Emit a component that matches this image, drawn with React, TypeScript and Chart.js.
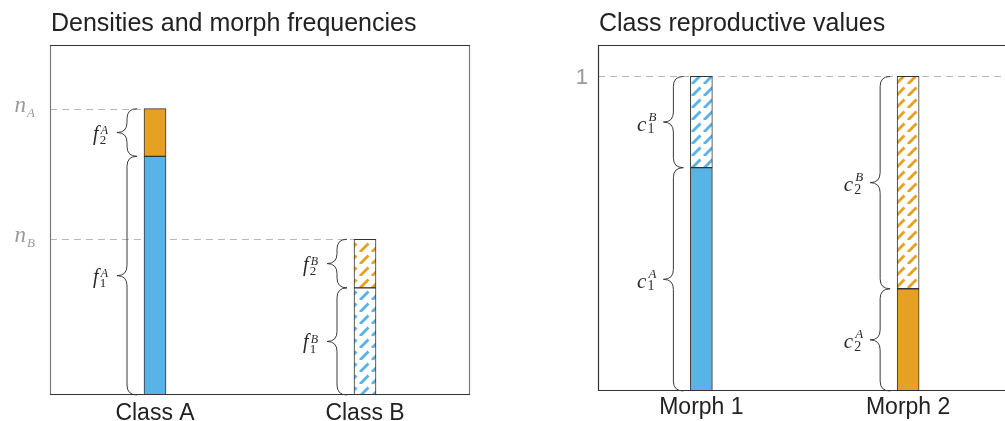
import React, { useEffect, useRef } from 'react';
import { Chart, registerables } from 'chart.js';

Chart.register(...registerables);

// Left panel: class densities split into morph frequencies
const classCategories = ['Class A', 'Class B'];
const morph1Frequency = [0.682, 0.306]; // f_1^A, f_1^B
const morph2Frequency = [0.136, 0.139]; // f_2^A, f_2^B
const classDensity = [0.818, 0.445]; // n_A, n_B
const classDensityNames = ['A', 'B'];

// Right panel: class reproductive values of each morph
const morphCategories = ['Morph 1', 'Morph 2'];
const classAReproValue = [0.71, 0.325]; // c_1^A, c_2^A
const classBReproValue = [0.29, 0.675]; // c_1^B, c_2^B
const reproTicks = [1];

const BLUE = '#58B3E6';
const ORANGE = '#E6A024';
const SANS = '"Liberation Sans", Arial, sans-serif';
const SERIF = '"Liberation Serif", "Times New Roman", serif';

function makeHatch(color: string): CanvasPattern {
  const s = 12;
  const c = document.createElement('canvas');
  c.width = s;
  c.height = s;
  const g = c.getContext('2d')!;
  g.fillStyle = '#ffffff';
  g.fillRect(0, 0, s, s);
  g.strokeStyle = color;
  g.lineWidth = 2.9;
  g.setLineDash([12, 4.97]);
  for (const off of [-s, 0, s]) {
    g.beginPath();
    g.moveTo(off, s);
    g.lineTo(off + s, 0);
    g.stroke();
  }
  return g.createPattern(c, 'repeat')!;
}

type MathLabel = { letter: string; sub: string; sup?: string; subItalic?: boolean };

// font sizes and baseline offsets (relative to the label's middle) of a math label
type MathStyle = {
  big: number;
  small: number;
  supSize: number;
  letterDy: number;
  subDy: number;
  supDy: number;
};

function drawMath(
  ctx: CanvasRenderingContext2D,
  m: MathLabel,
  rightX: number,
  midY: number,
  color: string,
  st: MathStyle,
) {
  ctx.save();
  ctx.fillStyle = color;
  ctx.textBaseline = 'alphabetic';
  ctx.textAlign = 'left';
  const letterFont = `italic ${st.big}px ${SERIF}`;
  const subFont = `${m.subItalic ? 'italic ' : ''}${st.small}px ${SERIF}`;
  const supFont = `italic ${st.supSize}px ${SERIF}`;
  ctx.font = letterFont;
  const lw = ctx.measureText(m.letter).width;
  ctx.font = subFont;
  const sw = ctx.measureText(m.sub).width;
  ctx.font = supFont;
  const pw = m.sup ? ctx.measureText(m.sup).width : 0;
  const total = lw + 1 + Math.max(sw, pw + 1);
  const x0 = rightX - total;
  ctx.font = letterFont;
  ctx.fillText(m.letter, x0, midY + st.letterDy);
  ctx.font = subFont;
  ctx.fillText(m.sub, x0 + lw + 1, midY + st.subDy);
  if (m.sup) {
    ctx.font = supFont;
    ctx.fillText(m.sup, x0 + lw + 2, midY + st.supDy);
  }
  ctx.restore();
}

function drawBrace(ctx: CanvasRenderingContext2D, xe: number, y0: number, y1: number) {
  const xs = xe - 10;
  const xp = xe - 20;
  const ym = (y0 + y1) / 2;
  const r = Math.min(10, (y1 - y0) / 4);
  ctx.beginPath();
  ctx.moveTo(xe, y0);
  ctx.quadraticCurveTo(xs, y0, xs, y0 + r);
  ctx.lineTo(xs, ym - r);
  ctx.quadraticCurveTo(xs, ym, xp, ym);
  ctx.quadraticCurveTo(xs, ym, xs, ym + r);
  ctx.lineTo(xs, y1 - r);
  ctx.quadraticCurveTo(xs, y1, xe, y1);
  ctx.stroke();
}

type RefLine = { value: number; until: number | null; label: MathLabel | string };

type PanelSpec = {
  title: string;
  refLines: RefLine[];
  braces: MathLabel[][]; // [dataset][category]
  braceStyle: MathStyle;
  labelGap: number;
  sideColor: string;
};

const tickMathStyle: MathStyle = { big: 23, small: 13, supSize: 13, letterDy: 3, subDy: 8, supDy: 0 };

function panelPlugin(spec: PanelSpec) {
  const barLeft = (chart: any, di: number, idx: number) => {
    const el = chart.getDatasetMeta(di).data[idx] as any;
    const p = el.getProps(['x', 'width'], true);
    return p.x - p.width / 2;
  };
  return {
    id: 'panelDecor',
    beforeDatasetsDraw(chart: any) {
      const { ctx, chartArea } = chart;
      const y = chart.scales.y;
      ctx.save();
      ctx.strokeStyle = '#b8b8b8';
      ctx.lineWidth = 1.2;
      ctx.setLineDash([7, 5]);
      for (const r of spec.refLines) {
        const py = Math.round(y.getPixelForValue(r.value)) + 0.5;
        const end = r.until === null ? chartArea.right : barLeft(chart, 0, r.until);
        ctx.beginPath();
        ctx.moveTo(chartArea.left, py);
        ctx.lineTo(end, py);
        ctx.stroke();
      }
      ctx.restore();
    },
    afterDraw(chart: any) {
      const { ctx, chartArea } = chart;
      const y = chart.scales.y;
      ctx.save();
      // title
      ctx.fillStyle = '#222222';
      ctx.font = `25px ${SANS}`;
      ctx.textAlign = 'left';
      ctx.textBaseline = 'alphabetic';
      ctx.fillText(spec.title, chartArea.left + 1, 31);
      // frame
      const l = Math.round(chartArea.left) + 0.5;
      const r = Math.round(chartArea.right) - 0.5;
      const t = Math.round(chartArea.top) + 0.5;
      const b = Math.round(chartArea.bottom) - 0.5;
      ctx.lineWidth = 1.2;
      ctx.strokeStyle = spec.sideColor;
      ctx.beginPath();
      ctx.moveTo(l, t);
      ctx.lineTo(l, b);
      ctx.moveTo(r, t);
      ctx.lineTo(r, b);
      ctx.stroke();
      ctx.strokeStyle = '#333333';
      ctx.beginPath();
      ctx.moveTo(l - 0.5, t);
      ctx.lineTo(r + 0.5, t);
      ctx.moveTo(l - 0.5, b);
      ctx.lineTo(r + 0.5, b);
      ctx.stroke();
      // y reference labels
      for (const rl of spec.refLines) {
        const py = y.getPixelForValue(rl.value);
        if (typeof rl.label === 'string') {
          ctx.fillStyle = '#9a9a9a';
          ctx.font = `22px ${SANS}`;
          ctx.textAlign = 'right';
          ctx.textBaseline = 'middle';
          ctx.fillText(rl.label, chartArea.left - 10, py + 1);
        } else {
          drawMath(ctx, rl.label, chartArea.left - 15, py, '#9a9a9a', tickMathStyle);
        }
      }
      // braces with labels
      ctx.strokeStyle = '#3a3a3a';
      ctx.lineWidth = 1;
      spec.braces.forEach((row, di) => {
        const meta = chart.getDatasetMeta(di);
        row.forEach((lab, idx) => {
          const el = meta.data[idx] as any;
          const p = el.getProps(['x', 'y', 'base', 'width'], true);
          const top = Math.min(p.y, p.base);
          const bot = Math.max(p.y, p.base);
          const xe = p.x - p.width / 2 - 7;
          drawBrace(ctx, xe, top, bot);
          drawMath(ctx, lab, xe - 20 - spec.labelGap, (top + bot) / 2, '#2a2a2a', spec.braceStyle);
        });
      });
      ctx.restore();
    },
  };
}

function barStyle() {
  return { borderColor: '#333333', borderWidth: 1, borderSkipped: false as const, barThickness: 22 };
}

function xAxis(padding: number) {
  return {
    stacked: true,
    grid: { display: false, drawTicks: false },
    border: { display: false },
    ticks: { color: '#222222', font: { family: SANS, size: 23, lineHeight: 1 }, padding },
  };
}

export default function App() {
  const leftRef = useRef<HTMLCanvasElement>(null);
  const rightRef = useRef<HTMLCanvasElement>(null);

  useEffect(() => {
    const blueHatch = makeHatch(BLUE);
    const orangeHatch = makeHatch(ORANGE);

    const left = new Chart(leftRef.current!, {
      type: 'bar',
      data: {
        labels: classCategories,
        datasets: [
          { label: 'Morph 1', data: morph1Frequency, backgroundColor: [BLUE, blueHatch] as any, ...barStyle() },
          { label: 'Morph 2', data: morph2Frequency, backgroundColor: [ORANGE, orangeHatch] as any, ...barStyle() },
        ],
      },
      options: {
        responsive: false,
        animation: false,
        layout: { padding: { left: 50, right: 90, top: 45, bottom: 8 } },
        plugins: { legend: { display: false }, tooltip: { enabled: false } },
        scales: {
          x: xAxis(7) as any,
          y: { stacked: true, display: false, min: 0, max: 1 },
        },
      },
      plugins: [
        panelPlugin({
          title: 'Densities and morph frequencies',
          sideColor: '#7a7a7a',
          labelGap: 9,
          braceStyle: { big: 20, small: 13, supSize: 12, letterDy: 7, subDy: 11.5, supDy: 1.5 },
          refLines: classDensity.map((v, i) => ({
            value: v,
            until: i,
            label: { letter: 'n', sub: classDensityNames[i], subItalic: true },
          })),
          braces: [1, 2].map((m) =>
            classDensityNames.map((c) => ({ letter: 'f', sub: String(m), sup: c })),
          ),
        }) as any,
      ],
    });

    const right = new Chart(rightRef.current!, {
      type: 'bar',
      data: {
        labels: morphCategories,
        datasets: [
          { label: 'Class A', data: classAReproValue, backgroundColor: [BLUE, ORANGE], ...barStyle() },
          { label: 'Class B', data: classBReproValue, backgroundColor: [blueHatch, orangeHatch] as any, ...barStyle() },
        ],
      },
      options: {
        responsive: false,
        animation: false,
        layout: { padding: { left: 38, right: 8.5, top: 45, bottom: 16 } },
        plugins: { legend: { display: false }, tooltip: { enabled: false } },
        scales: {
          x: xAxis(5) as any,
          y: { stacked: true, display: false, min: 0, max: 1.1 },
        },
      },
      plugins: [
        panelPlugin({
          title: 'Class reproductive values',
          sideColor: '#333333',
          labelGap: 7,
          braceStyle: { big: 21, small: 14, supSize: 13, letterDy: 8.5, subDy: 11, supDy: -1.5 },
          refLines: reproTicks.map((v) => ({ value: v, until: null, label: String(v) })),
          braces: ['A', 'B'].map((c) =>
            morphCategories.map((_, j) => ({ letter: 'c', sub: String(j + 1), sup: c })),
          ),
        }) as any,
      ],
    });

    return () => {
      left.destroy();
      right.destroy();
    };
  }, []);

  return (
    <div
      style={{
        position: 'fixed',
        left: 0,
        top: 0,
        width: 1005,
        height: 421,
        overflow: 'hidden',
        background: '#ffffff',
      }}
    >
      <canvas
        ref={leftRef}
        width={560}
        height={440}
        style={{ position: 'absolute', left: 0, top: 0, display: 'block' }}
      />
      <canvas
        ref={rightRef}
        width={460}
        height={440}
        style={{ position: 'absolute', left: 560, top: 0, display: 'block' }}
      />
    </div>
  );
}
